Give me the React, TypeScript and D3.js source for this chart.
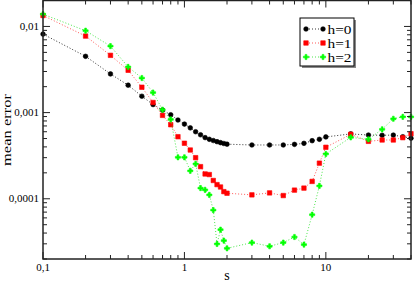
import React from 'react';
import { scaleLog, line, symbol, symbolCircle, symbolSquare, symbolCross } from 'd3';

const sValues = [0.1, 0.2, 0.3, 0.4, 0.5, 0.6, 0.7, 0.8, 0.9,
    1.0, 1.1, 1.2, 1.3, 1.4, 1.5, 1.6, 1.7, 1.8, 1.9, 2.0,
    3, 4, 5, 6, 7, 8, 9, 10, 15, 20, 25, 30, 35, 40];

const errH0 = [0.00815, 0.0045, 0.00281, 0.00208, 0.00155, 0.00124, 0.00107, 0.000944, 0.00082,
    0.000736, 0.000665, 0.0006, 0.000553, 0.000513, 0.00049, 0.000474, 0.00046, 0.000448, 0.000438, 0.00043,
    0.000421, 0.000421, 0.000421, 0.000428, 0.00044, 0.000472, 0.00049, 0.000522, 0.000566, 0.000549, 0.000546, 0.000548, 0.000525, 0.000505];

const errH1 = [0.0134, 0.00773, 0.00462, 0.0031, 0.00197, 0.00131, 0.000929, 0.000723, 0.000525,
    0.000441, 0.000368, 0.0003, 0.000236, 0.000194, 0.000191, 0.000163, 0.000146, 0.000137, 0.000121, 0.000116,
    0.000111, 0.000117, 0.000109, 0.000126, 0.000133, 0.000159, 0.000259, 0.000396, 0.00056, 0.000464, 0.000481, 0.000481, 0.000512, 0.000569];

const errH2 = [0.01387, 0.00892, 0.00591, 0.00339, 0.00252, 0.00171, 0.00108, 0.000833, 0.000303,
    0.000303, 0.000211, 0.000254, 0.000133, 0.000127, 0.000111, 0.0000739, 0.0000299, 0.0000438, 0.0000327, 0.0000266,
    0.000031, 0.0000281, 0.000031, 0.000036, 0.0000294, 0.0000653, 0.000141, 0.000331, 0.000516, 0.00049, 0.00064, 0.000848, 0.000893, 0.000893];

const seriesNames = ["h=0", "h=1", "h=2"];

const xMajor = [0.1, 1, 10];
const xMajorLabels = ["0,1", "1", "10"];
const yMajor = [0.01, 0.001, 0.0001];
const yMajorLabels = ["0,01", "0,001", "0,0001"];

const W = 415, H = 284;
const plot = { left: 43, right: 411, top: 0.5, bottom: 259 };
const FONT = "'Liberation Serif', 'DejaVu Serif', serif";

const x = scaleLog().domain([0.1, 40]).range([plot.left, plot.right]);
const y = scaleLog().domain([0.00002, 0.02]).range([plot.bottom, plot.top]);

const isMajor = (v) => Math.abs(Math.log10(v) - Math.round(Math.log10(v))) < 1e-9;

const styles = [
    { color: "#000000", line: "#000000", shape: symbolCircle, size: 17 },
    { color: "#ff0000", line: "#ff3030", shape: symbolSquare, size: 20 },
    { color: "#00ff00", line: "#20e020", shape: symbolCross, size: 15 },
];

const Series = ({ values, st }) => {
    const path = line()
        .x((d, i) => x(sValues[i]))
        .y(d => y(d))(values);
    const sym = symbol().type(st.shape).size(st.size)();
    return (
        <g>
            <path d={path} fill="none" stroke={st.line} strokeWidth={1} strokeDasharray="1 2" strokeOpacity={0.8} />
            {values.map((v, i) => (
                <path key={i} d={sym} fill={st.color} stroke={st.color} strokeWidth={0.6}
                    transform={`translate(${x(sValues[i])},${y(v)})`} />
            ))}
        </g>
    );
};

const Axes = () => {
    const xt = x.ticks();
    const yt = y.ticks();
    return (
        <g stroke="#222" strokeWidth={1}>
            {xt.map((t, i) => {
                const len = isMajor(t) ? 7 : 4;
                const px = x(t);
                return (
                    <g key={"x" + i}>
                        <line x1={px} x2={px} y1={plot.bottom} y2={plot.bottom - len} />
                        <line x1={px} x2={px} y1={plot.top} y2={plot.top + len} />
                    </g>
                );
            })}
            {yt.map((t, i) => {
                const len = isMajor(t) ? 7 : 4;
                const py = y(t);
                return (
                    <g key={"y" + i}>
                        <line x1={plot.left} x2={plot.left + len} y1={py} y2={py} />
                        <line x1={plot.right} x2={plot.right - len} y1={py} y2={py} />
                    </g>
                );
            })}
            <rect x={plot.left} y={plot.top} width={plot.right - plot.left} height={plot.bottom - plot.top}
                fill="none" strokeWidth={1.5} />
        </g>
    );
};

const Legend = () => {
    const bx = 300, by = 18, bw = 54, bh = 48;
    const rows = [29, 43, 57];
    return (
        <g>
            <rect x={bx + 2} y={by + 2} width={bw} height={bh} fill="#888" />
            <rect x={bx} y={by} width={bw} height={bh} fill="#fff" stroke="#000" strokeWidth={1} />
            {seriesNames.map((name, i) => {
                const st = styles[i];
                const sym = symbol().type(st.shape).size(st.size)();
                return (
                    <g key={name}>
                        <line x1={306} x2={323} y1={rows[i]} y2={rows[i]} stroke={st.line} strokeDasharray="1 2" strokeOpacity={0.8} />
                        <path d={sym} fill={st.color} stroke={st.color} strokeWidth={0.6} transform={`translate(306,${rows[i]})`} />
                        <path d={sym} fill={st.color} stroke={st.color} strokeWidth={0.6} transform={`translate(323,${rows[i]})`} />
                        <text x={327.5} y={rows[i] + 4.5} fontFamily={FONT} fontSize={13} textLength={24}
                            lengthAdjust="spacingAndGlyphs">{name}</text>
                    </g>
                );
            })}
        </g>
    );
};

export default function App() {
    const data = [errH0, errH1, errH2];
    return (
        <svg width={W} height={H} style={{ position: 'absolute', left: 0, top: 0, background: '#fff' }}>
            <rect width={W} height={H} fill="#fff" />
            {data.map((vals, i) => <Series key={i} values={vals} st={styles[i]} />)}
            <Axes />
            {xMajor.map((t, i) => (
                <text key={"xl" + i} x={x(t)} y={271} textAnchor="middle" fontFamily={FONT} fontSize={11}>{xMajorLabels[i]}</text>
            ))}
            {yMajor.map((t, i) => (
                <text key={"yl" + i} x={39} y={y(t) + 3.5} textAnchor="end" fontFamily={FONT} fontSize={11}>{yMajorLabels[i]}</text>
            ))}
            <text x={227} y={280} textAnchor="middle" fontFamily={FONT} fontSize={14}>s</text>
            <text transform={`translate(11,130) rotate(-90)`} textAnchor="middle" fontFamily={FONT} fontSize={13}
                textLength={72} lengthAdjust="spacingAndGlyphs">mean error</text>
            <Legend />
        </svg>
    );
}
